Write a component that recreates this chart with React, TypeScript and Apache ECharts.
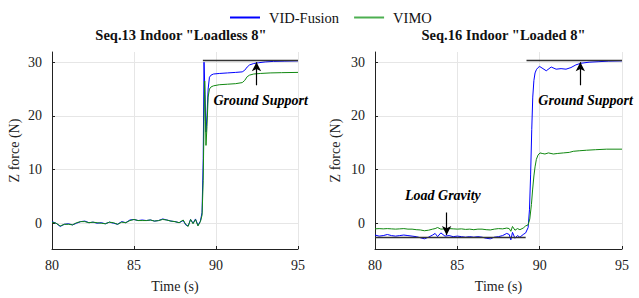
import React, { useEffect, useRef } from 'react';
import * as echarts from 'echarts';

const FONT = 'Liberation Serif';
const BLUE = '#0000ff';
const GREEN = '#118811';
const REF = '#333333';

// ---------- Seq.13 Indoor "Loadless 8" ----------
const t13Low = [80.0, 80.25, 80.5, 80.75, 81.0, 81.25, 81.5, 81.75, 82.0, 82.25, 82.5, 82.75, 83.0, 83.25, 83.5, 83.75, 84.0, 84.25, 84.5, 84.75, 85.0, 85.25, 85.5, 85.75, 86.0, 86.25, 86.5, 86.75, 87.0, 87.25, 87.5, 87.75, 88.0, 88.15, 88.3, 88.45, 88.6, 88.75, 88.9, 89.05];
const z13BlueLow = [0.3, 0.0, -0.6, -0.2, -0.1, -0.3, 0.0, 0.3, 0.4, 0.1, 0.2, 0.0, 0.1, -0.1, 0.2, 0.0, -0.2, 0.3, 0.1, 0.6, 0.7, 0.5, 0.6, 0.5, 0.6, 0.4, 0.5, 0.8, 0.6, 0.4, 0.3, 0.1, 0.5, -0.3, -0.5, 0.7, 0.0, 0.8, -0.4, 0.4];
const z13GreenLow = [0.2, 0.0, -0.5, -0.2, -0.2, -0.3, 0.1, 0.3, 0.3, 0.1, 0.2, 0.1, 0.0, -0.1, 0.2, 0.1, -0.2, 0.2, 0.1, 0.5, 0.7, 0.5, 0.5, 0.5, 0.6, 0.4, 0.5, 0.7, 0.6, 0.4, 0.3, 0.1, 0.6, -0.2, -0.6, 0.7, -0.1, 0.7, -0.5, 0.3];
const t13BlueHigh = [89.15, 89.22, 89.27, 89.33, 89.39, 89.45, 89.52, 89.6, 89.7, 89.85, 90.2, 90.7, 91.2, 91.6, 91.75, 91.9, 92.05, 92.3, 92.6, 93.0, 93.5, 94.2, 95.0];
const z13BlueHigh = [2.0, 12.0, 30.0, 24.0, 17.0, 20.0, 25.0, 27.2, 27.6, 27.8, 27.9, 28.0, 28.1, 28.2, 28.5, 29.1, 29.5, 29.75, 29.9, 30.05, 30.15, 30.2, 30.25];
const t13GreenHigh = [89.15, 89.22, 89.27, 89.31, 89.35, 89.39, 89.45, 89.52, 89.6, 89.7, 89.85, 90.2, 90.7, 91.2, 91.6, 91.75, 91.9, 92.05, 92.3, 92.7, 93.3, 94.0, 95.0];
const z13GreenHigh = [1.5, 8.0, 19.0, 26.5, 20.0, 14.5, 18.0, 23.5, 25.0, 25.4, 25.6, 25.8, 25.9, 26.0, 26.2, 26.6, 27.3, 27.6, 27.8, 27.9, 28.0, 28.05, 28.1];

// ---------- Seq.16 Indoor "Loaded 8" ----------
const t16Low = [80.0, 80.25, 80.5, 80.75, 81.0, 81.25, 81.5, 81.75, 82.0, 82.25, 82.5, 82.75, 83.0, 83.25, 83.5, 83.65, 83.8, 84.0, 84.25, 84.5, 84.75, 85.0, 85.25, 85.5, 85.75, 86.0, 86.25, 86.5, 86.75, 87.0, 87.25, 87.5, 87.75, 88.0, 88.15, 88.25, 88.35, 88.5, 88.65, 88.8, 89.0, 89.15];
const z16BlueLow = [-2.2, -2.4, -2.3, -2.1, -2.3, -2.4, -2.3, -2.2, -2.3, -2.4, -2.5, -2.7, -2.9, -2.6, -2.2, -1.9, -2.5, -1.8, -2.4, -2.3, -2.5, -2.4, -2.5, -2.6, -2.5, -2.6, -2.5, -2.6, -2.8, -2.9, -2.6, -2.5, -2.3, -1.9, -2.1, -3.1, -1.7, -2.8, -2.3, -2.6, -2.1, -1.8];
const z16GreenLow = [-1.05, -1.0, -1.05, -1.0, -1.05, -1.1, -1.05, -1.0, -1.1, -1.1, -1.2, -1.25, -1.4, -1.3, -1.1, -1.0, -0.8, -1.1, -1.05, -1.0, -1.05, -1.1, -1.05, -1.15, -1.1, -1.2, -1.1, -1.1, -1.2, -1.25, -1.1, -1.0, -1.05, -0.9, -1.0, -1.5, -0.6, -1.3, -1.0, -1.2, -0.9, -0.5];
const t16BlueHigh = [89.3, 89.38, 89.45, 89.52, 89.58, 89.65, 89.72, 89.8, 89.9, 90.0, 90.2, 90.4, 90.7, 91.0, 91.3, 91.6, 91.9, 92.2, 92.5, 93.0, 93.6, 94.2, 95.0];
const z16BlueHigh = [-0.8, 2.5, 9.0, 17.5, 23.5, 26.6, 28.0, 28.6, 29.0, 29.2, 28.8, 28.4, 29.1, 28.7, 28.8, 28.7, 29.0, 29.5, 29.8, 30.0, 30.1, 30.2, 30.25];
const t16GreenHigh = [89.3, 89.4, 89.5, 89.57, 89.65, 89.72, 89.8, 89.9, 90.02, 90.15, 90.32, 90.53, 90.83, 91.1, 91.44, 91.8, 92.04, 92.4, 92.85, 93.4, 94.07, 95.0];
const z16GreenHigh = [-0.3, 0.8, 3.5, 6.2, 8.8, 10.5, 11.9, 12.7, 13.1, 13.0, 12.9, 13.1, 12.9, 13.0, 13.1, 13.2, 13.4, 13.5, 13.6, 13.7, 13.8, 13.8];

// reference levels
const groundLevel = 30.3;
const groundStart13 = 89.2;
const groundStart16 = 89.2;
const timeEnd = 95;
const loadLevel = -2.65;
const loadSpan = [80, 89.15];

// annotations [x, y]
const arrow13 = [[92.47, 25.7], [92.47, 30.0]];
const arrow16 = [[92.47, 25.7], [92.47, 30.0]];
const arrowLoad = [[84.35, 2.0], [84.35, -2.2]];
const textGround13 = [89.84, 22.9];
const textGround16 = [89.92, 22.9];
const textLoad = [81.82, 5.2];

const titles = ['Seq.13 Indoor "Loadless 8"', 'Seq.16 Indoor "Loaded 8"'];
const yTicks = [0, 10, 20, 30];

const zip = (t: number[], v: number[]) => t.map((x, i) => [x, v[i]]);

function xAxis(gridIndex: number) {
  return {
    type: 'value', gridIndex, min: 80, max: 95, interval: 5,
    name: 'Time (s)', nameLocation: 'middle', nameGap: 30,
    nameTextStyle: { fontFamily: FONT, fontSize: 14, color: '#222' },
    axisLine: { show: true, onZero: false, lineStyle: { color: '#222', width: 1 } },
    axisTick: { show: true, inside: true, length: 3, lineStyle: { color: '#222' } },
    axisLabel: { fontFamily: FONT, fontSize: 14, color: '#222', margin: 9 },
    splitLine: { show: true, lineStyle: { color: '#e6e6e6', width: 1 } },
  };
}

function yAxis(gridIndex: number, nameGap: number) {
  return {
    type: 'value', gridIndex, min: -4.8, max: 31.9, splitNumber: 4,
    name: 'Z force (N)', nameLocation: 'middle', nameGap,
    nameTextStyle: { fontFamily: FONT, fontSize: 14, color: '#222' },
    axisLine: { show: true, onZero: false, lineStyle: { color: '#222', width: 1 } },
    axisTick: { show: true, inside: true, length: 3, lineStyle: { color: '#222' }, customValues: yTicks },
    axisLabel: { fontFamily: FONT, fontSize: 14, color: '#222', margin: 10, customValues: yTicks },
    splitLine: { show: true, lineStyle: { color: '#e6e6e6', width: 1 } },
  };
}

const lineSeries = (name: string, color: string, idx: number, data: number[][]) => ({
  name, type: 'line', xAxisIndex: idx, yAxisIndex: idx, data,
  symbol: 'none', showSymbol: false, smooth: false,
  lineStyle: { color, width: 1 }, itemStyle: { color }, z: 3,
});

const textStyle = { fontFamily: FONT, fontSize: 14, fontWeight: 'bold', fontStyle: 'italic', color: '#000' };

const arrowLine = (a: number[][]) => [
  { coord: a[0], symbol: 'none' },
  { coord: a[1], symbol: 'arrow', symbolSize: [7, 9] },
];

const textPoint = (text: string, c: number[]) => ({
  coord: c, value: text, symbol: 'rect', symbolSize: 0,
  label: { show: true, position: 'right', distance: 0, formatter: text, ...textStyle },
});

const refSeries = (idx: number, data: number[][], arrows: number[][][], texts: any[]) => ({
  type: 'line', xAxisIndex: idx, yAxisIndex: idx, data,
  symbol: 'none', showSymbol: false, silent: true,
  lineStyle: { color: REF, width: 1.5 }, itemStyle: { color: REF }, z: 4,
  markLine: {
    silent: true, animation: false, symbol: ['none', 'arrow'],
    lineStyle: { color: '#000', width: 1.2, type: 'solid' },
    label: { show: false },
    data: arrows.map(arrowLine),
  },
  markPoint: { silent: true, animation: false, data: texts },
});

const titleText = (text: string, x: number) => ({
  type: 'text', x, y: 34.5, silent: true,
  style: { text, fontFamily: FONT, fontSize: 14.5, fontWeight: 'bold', fill: '#111', textAlign: 'center', textVerticalAlign: 'middle' },
});

const option = {
  animation: false,
  backgroundColor: '#ffffff',
  textStyle: { fontFamily: FONT },
  legend: {
    data: [
      { name: 'VID-Fusion', icon: 'rect', itemStyle: { color: BLUE } },
      { name: 'VIMO', icon: 'rect', itemStyle: { color: '#4caf50' } },
    ],
    top: 5, left: 225, itemWidth: 30, itemHeight: 2, itemGap: 15,
    textStyle: { fontFamily: FONT, fontSize: 14.5, color: '#111', padding: [0, 0, 0, 4] },
  },
  graphic: [titleText(titles[0], 181), titleText(titles[1], 503.5)],
  grid: [
    { left: 52, top: 52, width: 246, height: 197, containLabel: false },
    { left: 375, top: 52, width: 247, height: 197, containLabel: false },
  ],
  xAxis: [xAxis(0), xAxis(1)],
  yAxis: [yAxis(0, 31), yAxis(1, 33)],
  series: [
    lineSeries('VID-Fusion', BLUE, 0, zip(t13Low, z13BlueLow).concat(zip(t13BlueHigh, z13BlueHigh))),
    lineSeries('VIMO', GREEN, 0, zip(t13Low, z13GreenLow).concat(zip(t13GreenHigh, z13GreenHigh))),
    refSeries(0, [[groundStart13, groundLevel], [timeEnd, groundLevel]], [arrow13], [textPoint('Ground Support', textGround13)]),
    lineSeries('VID-Fusion', BLUE, 1, zip(t16Low, z16BlueLow).concat(zip(t16BlueHigh, z16BlueHigh))),
    lineSeries('VIMO', GREEN, 1, zip(t16Low, z16GreenLow).concat(zip(t16GreenHigh, z16GreenHigh))),
    refSeries(1, [[groundStart16, groundLevel], [timeEnd, groundLevel]], [arrow16], [textPoint('Ground Support', textGround16)]),
    refSeries(1, [[loadSpan[0], loadLevel], [loadSpan[1], loadLevel]], [arrowLoad], [textPoint('Load Gravity', textLoad)]),
  ],
};

export default function App() {
  const ref = useRef<HTMLDivElement>(null);
  useEffect(() => {
    const chart = echarts.init(ref.current!, null, { renderer: 'svg' });
    chart.setOption(option as any);
    return () => chart.dispose();
  }, []);
  return <div ref={ref} style={{ position: 'absolute', left: 0, top: 0, width: 639, height: 298 }} />;
}
